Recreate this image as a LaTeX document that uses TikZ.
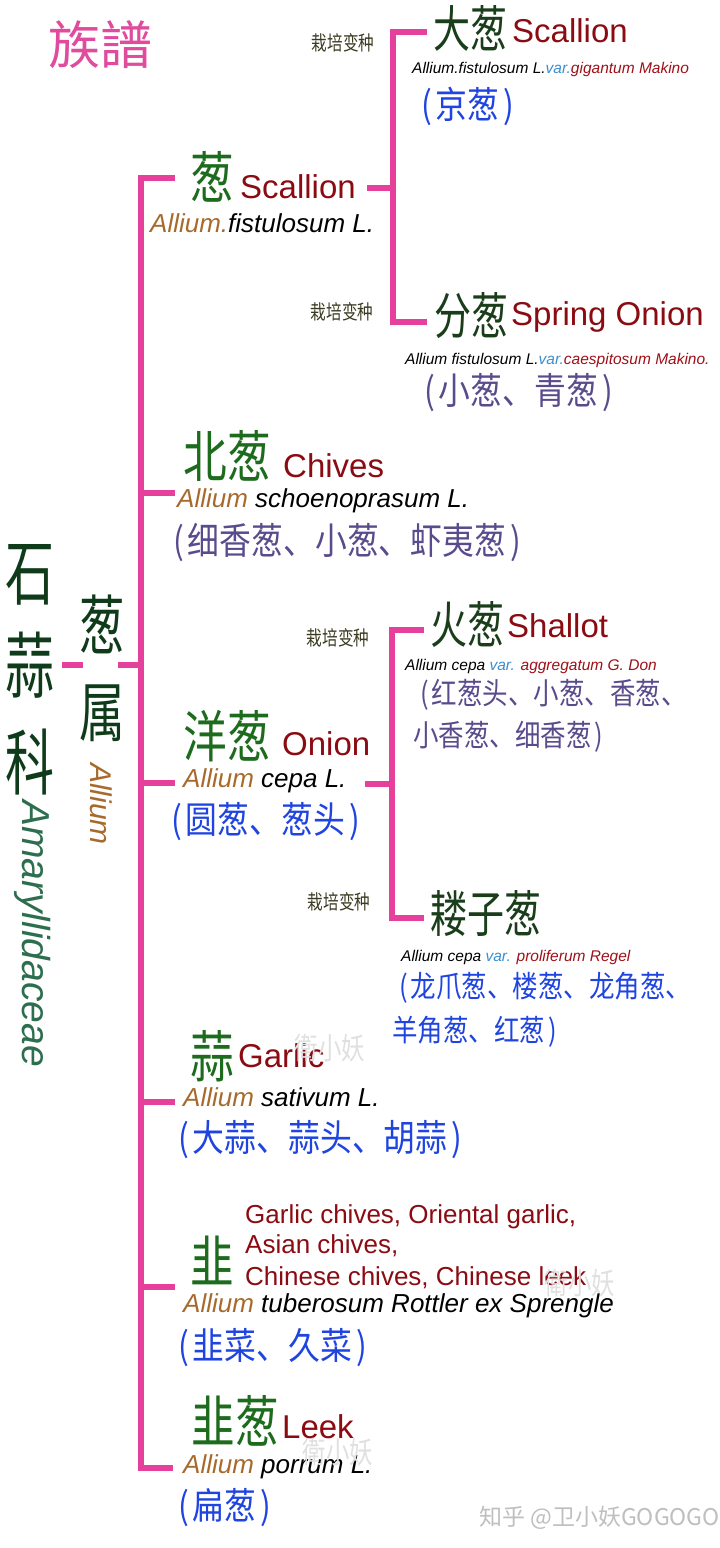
\documentclass[tikz,border=0pt]{standalone}
\usepackage{fontspec}
\setmainfont{Liberation Sans}
\newfontfamily\cjkM[FakeStretch=0.78]{Noto Sans CJK SC}
\newfontfamily\cjkR[FakeStretch=0.74]{Noto Sans CJK SC}
\newfontfamily\cjkF[FakeStretch=0.68]{Noto Sans CJK SC}
\newfontfamily\cjkG[FakeStretch=0.70]{Noto Sans CJK SC}
\newfontfamily\cjkP[FakeStretch=0.86]{Noto Sans CJK SC}
\newfontfamily\cjkQ[FakeStretch=0.85]{Noto Sans CJK SC}
\newfontfamily\cjkN{Noto Sans CJK SC}
\newcommand\setfs[1]{\fontsize{#1}{#1}\selectfont}
\definecolor{linkpink}{HTML}{E5409B}
\definecolor{titlepink}{HTML}{E04B9E}
\definecolor{spgreen}{HTML}{1D6B1D}
\definecolor{vargreen}{HTML}{1A3D1A}
\definecolor{famgreen}{HTML}{0F3B1A}
\definecolor{famlatin}{HTML}{2D6E4E}
\definecolor{enred}{HTML}{8B0B12}
\definecolor{allbrown}{HTML}{A86A2C}
\definecolor{varblue}{HTML}{3A8FD0}
\definecolor{varred}{HTML}{A01018}
\definecolor{alsopurple}{HTML}{5A4B8C}
\definecolor{alsoblue}{HTML}{1F44E0}
\definecolor{cultcol}{HTML}{3B3B22}
\begin{document}
\begin{tikzpicture}[x=1pt,y=-1pt,
  pinkline/.style={draw=linkpink,line width=6pt,line join=miter,line cap=butt},
  sp/.style={inner sep=0pt,font=\cjkM\setfs{56},text=spgreen},
  varcn/.style={inner sep=0pt,font=\cjkR\setfs{50},text=vargreen},
  fam/.style={inner sep=0pt,font=\cjkF\setfs{72},text=famgreen},
  gen/.style={inner sep=0pt,font=\cjkG\setfs{65},text=famgreen},
  en/.style={inner sep=0pt,anchor=base west,font=\setfs{33},text=enred},
  enS/.style={inner sep=0pt,anchor=base west,font=\setfs{26},text=enred},
  lat/.style={inner sep=0pt,anchor=base west,font=\itshape\setfs{26},text=black},
  vlat/.style={inner sep=0pt,anchor=base west,font=\itshape\setfs{15.5},text=black},
  cult/.style={inner sep=0pt,font=\cjkM\setfs{20},text=cultcol},
  alsoL/.style={inner sep=0pt,anchor=west,font=\cjkP\setfs{37}},
  alsoS/.style={inner sep=0pt,anchor=west,font=\cjkQ\setfs{30}},
  wmf/.style={inner sep=0pt,font=\cjkM\setfs{30},text=black!12}]
\useasboundingbox (0,0) rectangle (720,1548);
\fill[white] (0,0) rectangle (720,1548);

% title
\node[inner sep=0pt,font=\cjkN\setfs{52},text=titlepink] (title) at (100,45) {族譜};

% family and genus
\node[fam] (fam1) at (30,575) {石};
\node[fam] (fam2) at (30,665) {蒜};
\node[fam] (fam3) at (30,762) {科};
\node[rotate=-90,anchor=west,inner sep=0pt,font=\itshape\setfs{39},text=famlatin] (famlat) at (33,800) {Amaryllidaceae};
\node[gen] (gen1) at (102,624) {葱};
\node[gen] (gen2) at (102,713) {属};
\node[rotate=-90,anchor=west,inner sep=0pt,font=\itshape\setfs{30},text=allbrown] (genlat) at (101,763) {Allium};

% connector coordinates
\coordinate (famJ) at (62,665);
\coordinate (genJL) at (83,665);
\coordinate (genJR) at (118,665);
\coordinate (tTop) at (141,178);
\coordinate (tBot) at (141,1468);
\coordinate (s1) at (175,178);
\coordinate (s2) at (175,493);
\coordinate (s3) at (175,783);
\coordinate (s4) at (175,1102);
\coordinate (s5) at (175,1287);
\coordinate (s6) at (173,1468);
\coordinate (b1T) at (393,32);
\coordinate (b1B) at (393,322);
\coordinate (b1Ta) at (427,32);
\coordinate (b1Ba) at (427,322);
\coordinate (b1M) at (367,188);
\coordinate (b2T) at (392,630);
\coordinate (b2B) at (392,918);
\coordinate (b2Ta) at (424,630);
\coordinate (b2Ba) at (424,918);
\coordinate (b2M) at (365,784);

\draw[pinkline] (famJ) -- (genJL);
\draw[pinkline] (genJR) -- (tTop |- genJR);
\draw[pinkline] (s1) -- (tTop) -- (tBot) -- (s6);
\draw[pinkline] (tTop |- s2) -- (s2);
\draw[pinkline] (tTop |- s3) -- (s3);
\draw[pinkline] (tTop |- s4) -- (s4);
\draw[pinkline] (tTop |- s5) -- (s5);
\draw[pinkline] (b1Ta) -- (b1T) -- (b1B) -- (b1Ba);
\draw[pinkline] (b1M) -- (b1T |- b1M);
\draw[pinkline] (b2Ta) -- (b2T) -- (b2B) -- (b2Ba);
\draw[pinkline] (b2M) -- (b2T |- b2M);

% cultivar labels
\node[cult] (c1) at (343,43) {栽培变种};
\node[cult] (c2) at (342,312) {栽培变种};
\node[cult] (c3) at (338,638) {栽培变种};
\node[cult] (c4) at (339,902) {栽培变种};

% Scallion
\node[sp] (cong) at (212,177) {葱};
\node[en] (congE) at (240,198) {Scallion};
\node[lat] (congL) at (150,232) {\textcolor{allbrown}{Allium.}fistulosum L.};

% Da cong
\node[varcn] (dacong) at (470,28) {大葱};
\node[en] (dacongE) at (512,42) {Scallion};
\node[vlat] (dacongL) at (412,73.5) {Allium.fistulosum L.\textcolor{varblue}{var.}\textcolor{varred}{gigantum Makino}};
\node[alsoL,text=alsoblue] (dacongA) at (421,106) {(\hspace{4pt}京葱\hspace{4pt})};

% Fen cong
\node[varcn] (fencong) at (471,316) {分葱};
\node[en] (fencongE) at (511,325) {Spring Onion};
\node[vlat] (fencongL) at (405,364) {Allium fistulosum L.\textcolor{varblue}{var.}\textcolor{varred}{caespitosum Makino.}};
\node[alsoL,text=alsopurple] (fencongA) at (424,393) {(\hspace{4pt}小葱、青葱\hspace{4pt})};

% Chives
\node[sp] (beicong) at (227,456) {北葱};
\node[en] (beicongE) at (283,477) {Chives};
\node[lat] (beicongL) at (177,507) {\textcolor{allbrown}{Allium} schoenoprasum L.};
\node[alsoL,text=alsopurple] (beicongA) at (173,543) {(\hspace{4pt}细香葱、小葱、虾夷葱\hspace{4pt})};

% Onion
\node[sp] (yangcong) at (227,736) {洋葱};
\node[en] (yangcongE) at (282,755) {Onion};
\node[lat] (yangcongL) at (183,787) {\textcolor{allbrown}{Allium} cepa L.};
\node[alsoL,text=alsoblue] (yangcongA) at (171,822) {(\hspace{4pt}圆葱、葱头\hspace{4pt})};

% Shallot
\node[varcn] (huocong) at (467,625) {火葱};
\node[en] (huocongE) at (507,637) {Shallot};
\node[vlat] (huocongL) at (405,670) {Allium cepa \textcolor{varblue}{var.} \textcolor{varred}{aggregatum G. Don}};
\node[alsoS,text=alsopurple] (huocongA1) at (420,695) {(\hspace{3pt}红葱头、小葱、香葱、};
\node[alsoS,text=alsopurple] (huocongA2) at (413,737) {小香葱、细香葱\hspace{3pt})};

% Lou zi cong
\node[varcn] (louzicong) at (486,913) {耧子葱};
\node[vlat] (louzicongL) at (401,961) {Allium cepa \textcolor{varblue}{var.} \textcolor{varred}{proliferum Regel}};
\node[alsoS,text=alsoblue] (louzicongA1) at (399,988) {(\hspace{3pt}龙爪葱、楼葱、龙角葱、};
\node[alsoS,text=alsoblue] (louzicongA2) at (392,1032) {羊角葱、红葱\hspace{3pt})};

% Garlic
\node[sp] (suan) at (212,1056) {蒜};
\node[en] (suanE) at (238,1067) {Garlic};
\node[lat] (suanL) at (183,1106) {\textcolor{allbrown}{Allium} sativum L.};
\node[alsoL,text=alsoblue] (suanA) at (178,1140) {(\hspace{4pt}大蒜、蒜头、胡蒜\hspace{4pt})};

% Garlic chives
\node[sp] (jiu) at (212,1260) {韭};
\node[enS] (jiuE1) at (245,1223) {Garlic chives, Oriental garlic,};
\node[enS] (jiuE2) at (245,1253) {Asian chives,};
\node[enS] (jiuE3) at (245,1285) {Chinese chives, Chinese leek};
\node[lat] (jiuL) at (183,1312) {\textcolor{allbrown}{Allium} tuberosum Rottler ex Sprengle};
\node[alsoL,text=alsoblue] (jiuA) at (178,1348) {(\hspace{4pt}韭菜、久菜\hspace{4pt})};

% Leek
\node[sp] (jiucong) at (235,1421) {韭葱};
\node[en] (jiucongE) at (282,1438) {Leek};
\node[lat] (jiucongL) at (183,1473) {\textcolor{allbrown}{Allium} porrum L.};
\node[alsoL,text=alsoblue] (jiucongA) at (178,1508) {(\hspace{4pt}扁葱\hspace{4pt})};

% watermarks
\node[wmf] (wm1) at (330,1048) {衛小妖};
\node[wmf] (wm2) at (580,1283) {衛小妖};
\node[wmf] (wm3) at (338,1452) {衛小妖};
\node[inner sep=0pt,anchor=west,font=\cjkN\setfs{23},text=black!25] (wm) at (479,1518) {知乎 @卫小妖GOGOGO};
\end{tikzpicture}
\end{document}
